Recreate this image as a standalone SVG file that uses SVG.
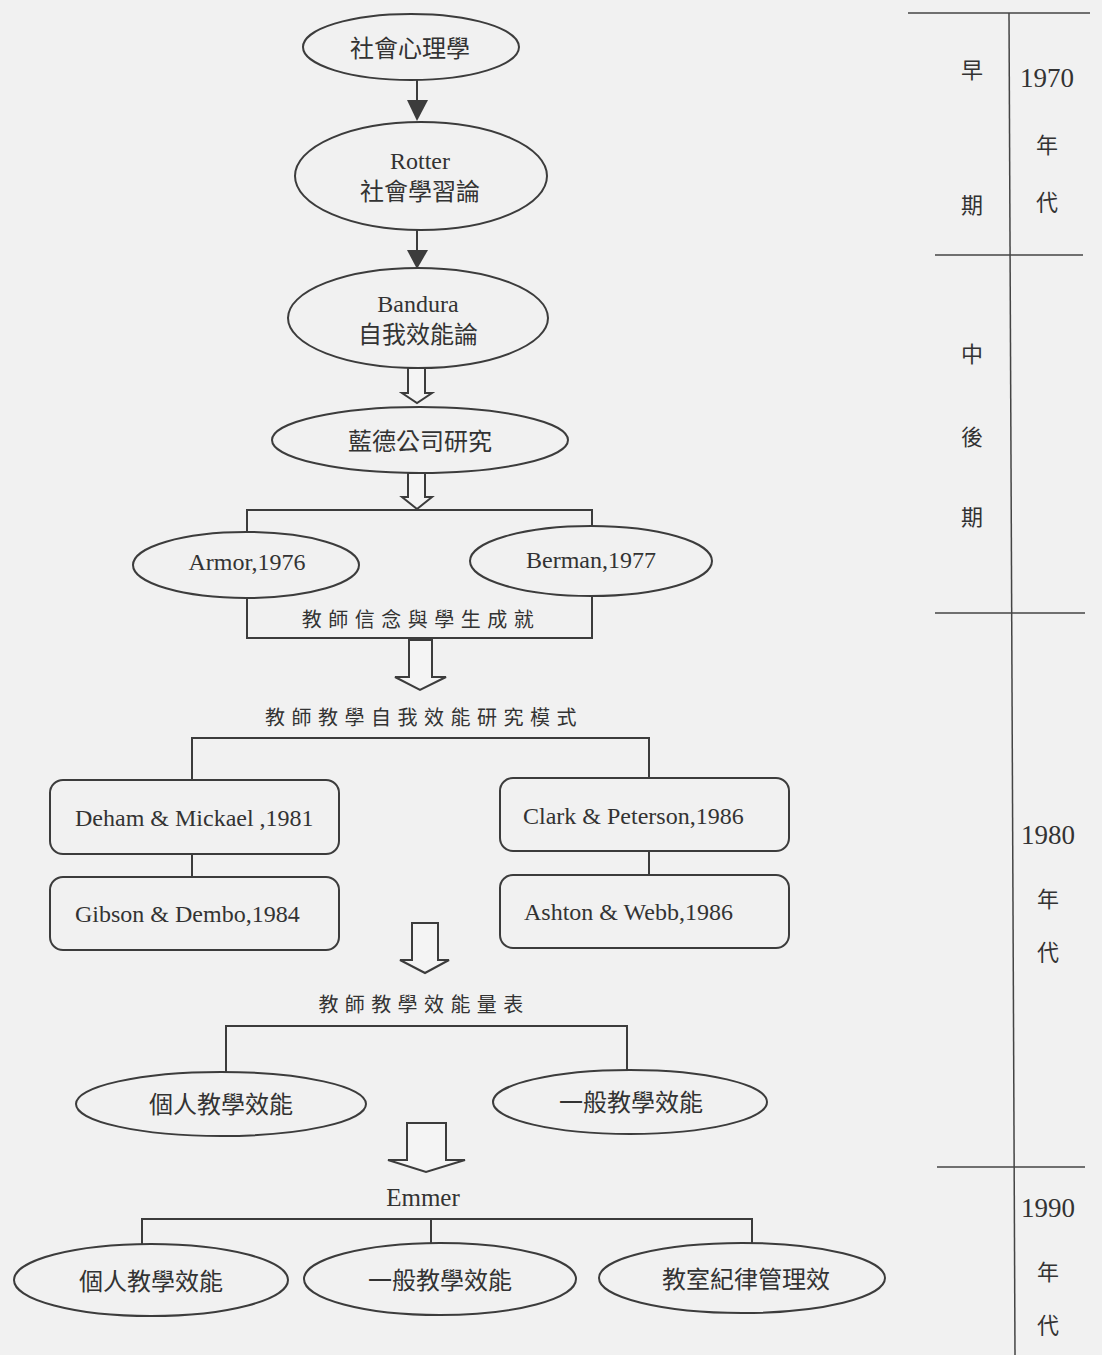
<svg xmlns="http://www.w3.org/2000/svg" width="1102" height="1355" viewBox="0 0 1102 1355">
<style>
.bg{fill:#f1f1f1}
.ln{fill:none;stroke:#3c3c3c;stroke-width:2}
.node{fill:#f1f1f1;stroke:#3c3c3c;stroke-width:2}
.box{fill:#f1f1f1;stroke:#3c3c3c;stroke-width:2}
.harrow{fill:#f4f4f4;stroke:#3c3c3c;stroke-width:2;stroke-linejoin:miter}
.farrow{fill:#3c3c3c;stroke:none}
.t{font-family:"Liberation Serif","Noto Sans CJK TC",serif;fill:#333;text-anchor:middle;dominant-baseline:central}
.zh{font-family:"Noto Sans CJK TC","Liberation Serif",sans-serif;fill:#333;text-anchor:middle;dominant-baseline:central}
.sp{font-family:"Noto Sans CJK TC",sans-serif;fill:#333;text-anchor:middle;dominant-baseline:central;font-size:20px}
.en{font-family:"Liberation Serif",serif;fill:#333;dominant-baseline:central;font-size:24px}
.tl{fill:none;stroke:#444;stroke-width:1.5}
</style>
<rect class="bg" x="0" y="0" width="1102" height="1355"/>

<g id="connectors">
  <line class="ln" x1="417" y1="80" x2="417" y2="101"/>
  <polygon class="farrow" points="407,100 428,100 417,121"/>
  <line class="ln" x1="417" y1="230" x2="417" y2="251"/>
  <polygon class="farrow" points="407,250 428,250 417,269"/>
  <polygon class="harrow" points="408,368 425,368 425,393 432,393 417,403 402,393 408,393"/>
  <polygon class="harrow" points="408,473 425,473 425,497 432,497 417,509 402,497 408,497"/>
  <polygon class="harrow" points="409,640 432,640 432,677 446,677 420,690 395,677 409,677"/>
  <polygon class="harrow" points="412,923 438,923 438,960 449,960 425,973 400,960 412,960"/>
  <polygon class="harrow" points="407,1123 446,1123 446,1160 465,1160 426,1172 388,1160 407,1160"/>
  <rect class="ln" x="247" y="510" width="345" height="128"/>
  <polyline class="ln" points="192,780 192,738 649,738 649,778"/>
  <line class="ln" x1="192" y1="854" x2="192" y2="877"/>
  <line class="ln" x1="649" y1="851" x2="649" y2="875"/>
  <polyline class="ln" points="226,1072 226,1026 627,1026 627,1070"/>
  <polyline class="ln" points="142,1245 142,1219 752,1219 752,1243"/>
  <line class="ln" x1="431" y1="1219" x2="431" y2="1244"/>
</g>

<g id="n1"><ellipse class="node" cx="411" cy="47" rx="108" ry="33"/><text class="zh" x="410" y="46" font-size="24">社會心理學</text></g>
<g id="n2"><ellipse class="node" cx="421" cy="176" rx="126" ry="54"/><text class="t" x="420" y="161" font-size="24">Rotter</text><text class="zh" x="420" y="189" font-size="24">社會學習論</text></g>
<g id="n3"><ellipse class="node" cx="418" cy="318" rx="130" ry="50"/><text class="t" x="418" y="304" font-size="24">Bandura</text><text class="zh" x="418" y="332" font-size="24">自我效能論</text></g>
<g id="n4"><ellipse class="node" cx="420" cy="440" rx="148" ry="33"/><text class="zh" x="420" y="439" font-size="24">藍德公司研究</text></g>
<g id="n5"><ellipse class="node" cx="246" cy="565" rx="113" ry="33"/><text class="t" x="247" y="562" font-size="24">Armor,1976</text></g>
<g id="n6"><ellipse class="node" cx="591" cy="561" rx="121" ry="35"/><text class="t" x="591" y="560" font-size="24">Berman,1977</text></g>
<g id="n7"><text class="sp" x="421" y="618" letter-spacing="6.5">教師信念與學生成就</text></g>
<g id="n8"><text class="sp" x="424" y="716" letter-spacing="6.5">教師教學自我效能研究模式</text></g>
<g id="n9"><rect class="box" x="50" y="780" width="289" height="74" rx="13"/><text class="en" x="75" y="818">Deham &amp; Mickael ,1981</text></g>
<g id="n10"><rect class="box" x="50" y="877" width="289" height="73" rx="13"/><text class="en" x="75" y="914">Gibson &amp; Dembo,1984</text></g>
<g id="n11"><rect class="box" x="500" y="778" width="289" height="73" rx="13"/><text class="en" x="523" y="816">Clark &amp; Peterson,1986</text></g>
<g id="n12"><rect class="box" x="500" y="875" width="289" height="73" rx="13"/><text class="en" x="524" y="912">Ashton &amp; Webb,1986</text></g>
<g id="n13"><text class="sp" x="424" y="1003" letter-spacing="6.4">教師教學效能量表</text></g>
<g id="n14"><ellipse class="node" cx="221" cy="1104" rx="145" ry="32"/><text class="zh" x="221" y="1102" font-size="24">個人教學效能</text></g>
<g id="n15"><ellipse class="node" cx="630" cy="1102" rx="137" ry="32"/><text class="zh" x="631" y="1100" font-size="24">一般教學效能</text></g>
<g id="n16"><text class="t" x="423" y="1197" font-size="25">Emmer</text></g>
<g id="n17"><ellipse class="node" cx="151" cy="1280" rx="137" ry="36"/><text class="zh" x="151" y="1279" font-size="24">個人教學效能</text></g>
<g id="n18"><ellipse class="node" cx="440" cy="1279" rx="136" ry="36"/><text class="zh" x="440" y="1278" font-size="24">一般教學效能</text></g>
<g id="n19"><ellipse class="node" cx="742" cy="1278" rx="143" ry="35"/><text class="zh" x="746" y="1277" font-size="24">教室紀律管理效</text></g>

<g id="timeline" font-size="22">
  <line class="tl" x1="908" y1="13" x2="1090" y2="13"/>
  <line class="tl" x1="1009" y1="13" x2="1015" y2="1355"/>
  <line class="tl" x1="935" y1="255" x2="1083" y2="255"/>
  <line class="tl" x1="935" y1="613" x2="1085" y2="613"/>
  <line class="tl" x1="937" y1="1167" x2="1085" y2="1167"/>
  <text class="zh" x="972" y="68">早</text>
  <text class="zh" x="972" y="203">期</text>
  <text class="zh" x="972" y="352">中</text>
  <text class="zh" x="972" y="435">後</text>
  <text class="zh" x="972" y="515">期</text>
  <text class="t" x="1047" y="78" font-size="27">1970</text>
  <text class="zh" x="1047" y="143">年</text>
  <text class="zh" x="1047" y="200">代</text>
  <text class="t" x="1048" y="835" font-size="27">1980</text>
  <text class="zh" x="1048" y="897">年</text>
  <text class="zh" x="1048" y="950">代</text>
  <text class="t" x="1048" y="1208" font-size="27">1990</text>
  <text class="zh" x="1048" y="1270">年</text>
  <text class="zh" x="1048" y="1323">代</text>
</g>
</svg>
